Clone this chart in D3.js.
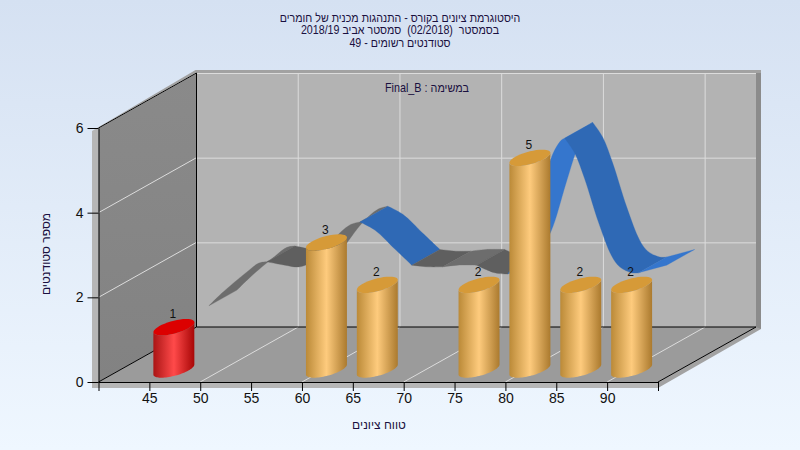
<!DOCTYPE html>
<html><head><meta charset="utf-8">
<script src="https://cdn.jsdelivr.net/npm/d3@7"></script>
<style>html,body{margin:0;padding:0;background:#fff}svg{display:block}text{font-family:"Liberation Sans",Arial,sans-serif;white-space:pre}</style>
</head><body><svg id="c" width="800" height="450"></svg>
<script>
const titleLines = ["היסטוגרמת ציונים בקורס - התנהגות מכנית של חומרים","בסמסטר  (02/2018)  סמסטר אביב 2018/19","סטודנטים רשומים - 49"];
const taskLabel = "במשימה : Final_B";
const xTitle = "טווח ציונים";
const yTitle = "מספר סטודנטים";
const xTicks = [40,45,50,55,60,65,70,75,80,85,90,95];
const xLabels = [45,50,55,60,65,70,75,80,85,90];
const yTicks = [0,2,4,6];
const gridX = [50,60,70,80,90];
const gridY = [2,4,6];
const binStart = [45,60,65,75,80,85,90];
const binCount = [1,3,2,2,5,2,2];
const binKind = ["low","ok","ok","ok","ok","ok","ok"];
const curveScore = [47.97,49.24,51.70,52.88,53.67,55.43,56.91,58.77,60.25,61.82,62.80,64.27,66.24,67.91,69.48,70.95,72.43,74.29,76.06,77.34,78.81,80.28,81.27,81.95,82.64,82.94,83.92,84.90,86.28,87.55,88.34,89.52,90.21,92.96];
const curveValue = [1.41,1.71,2.21,2.42,2.45,2.37,2.33,2.52,2.99,3.32,3.39,3.20,2.75,2.37,2.33,2.33,2.37,2.37,2.19,2.16,2.78,3.91,4.67,5.09,5.33,5.37,5.02,4.41,3.37,2.59,2.33,2.19,2.19,2.37];
const curveTone = ["g1","g1","g1","g1","g2","g2","g2","g1","g1","g1","b","b","b","g2","g2","g1","g1","g2","g2","l","l","l","l","l","l","b","b","b","b","b","b","b","l"];

const W=800,H=450,DX=98,DY=55;
const svg=d3.select("#c");
const x=d3.scaleLinear().domain([40,95]).range([98.5,658]);
const y=d3.scaleLinear().domain([0,6]).range([382,128]);
const px=(s,d=0)=>x(s)+d*DX, py=(v,d=0)=>y(v)-d*DY;
const line=d3.line();
const P=(pts)=>line(pts)+"Z";
const defs=svg.append("defs");
function grad(id,stops,x2=1,y2=0){const g=defs.append("linearGradient").attr("id",id).attr("x1",0).attr("y1",0).attr("x2",x2).attr("y2",y2);
 stops.forEach(([o,c])=>g.append("stop").attr("offset",o).attr("stop-color",c));}
grad("bg",[[0,"#d5e1f2"],[1,"#eff7ff"]],0,1);
grad("gold",[[0,"#bb8a38"],[.5,"#fecb7d"],[1,"#ab7a2e"]]);
grad("red",[[0,"#aa1515"],[.5,"#ff4a4a"],[1,"#a80606"]]);
grad("lw",[[0,"#8a8a8a"],[1,"#828282"]],0,1);
svg.append("rect").attr("width",W).attr("height",H).attr("fill","url(#bg)");

const x0=40,x1=95,y0=0,y1=6;
svg.append("path").attr("fill","#b6b6b6").attr("d",P([[92,131],[px(x0),py(y1)],[px(x0),py(y0)+0],[px(x1),py(y0)],[px(x1),388],[92,388]]));
svg.append("path").attr("fill","#a2a2a2").attr("d",P([[92,131],[px(x0,1)-1,py(y1,1)-3],[px(x1,1)+5,py(y1,1)-3],[px(x1,1)+5,py(y0,1)+2],[px(x1),388],[px(x1),py(y0)],[px(x1,1),py(y0,1)],[px(x1,1),py(y1,1)],[px(x0,1),py(y1,1)],[px(x0),py(y1)]]));
svg.append("path").attr("fill","#8b8b8b").attr("d",P([[px(x1,1),py(y1,1)],[px(x1,1)+5,py(y1,1)],[px(x1,1)+5,py(y0,1)+2],[px(x1,1),py(y0,1)]]));
svg.append("path").attr("fill","#b3b3b3").attr("d",P([[px(x0,1),py(y1,1)],[px(x1,1),py(y1,1)],[px(x1,1),py(y0,1)],[px(x0,1),py(y0,1)]]));
svg.append("path").attr("fill","url(#lw)").attr("d",P([[px(x0),py(y1)],[px(x0,1),py(y1,1)],[px(x0,1),py(y0,1)],[px(x0),py(y0)]]));
svg.append("path").attr("fill","#9b9b9b").attr("d",P([[px(x0),py(y0)],[px(x0,1),py(y0,1)],[px(x1,1),py(y0,1)],[px(x1),py(y0)]]));
const grid=svg.append("g").attr("stroke","#dcdcdc").attr("fill","none").attr("stroke-width",1);
gridX.forEach(s=>{grid.append("path").attr("d",line([[px(s,1),py(y1,1)],[px(s,1),py(y0,1)]]));
 grid.append("path").attr("d",line([[px(s),py(y0)],[px(s,1),py(y0,1)]]));});
gridY.forEach(v=>{grid.append("path").attr("d",line([[px(x0,1),py(v,1)+.5],[px(x1,1),py(v,1)+.5]]));
 grid.append("path").attr("d",line([[px(x0),py(v)],[px(x0,1),py(v,1)]]));});
const fr=svg.append("g").attr("stroke","#000").attr("fill","none").attr("stroke-width",1);
[[[px(x0),py(y1)],[px(x0,1),py(y1,1)]],[[px(x0,1),py(y1,1)],[px(x0,1),py(y0,1)]],[[px(x0,1),py(y0,1)],[px(x1,1),py(y0,1)]],[[px(x0),py(y0)],[px(x0,1),py(y0,1)]],[[px(x1),py(y0)],[px(x1,1),py(y0,1)]]].forEach(s=>fr.append("path").attr("d",line(s)));

// ribbon: runs of equal tone, each edge drawn as a smooth curve
const D1=0.3,D2=0.586;
const tone={g1:"#6d6d6d",g2:"#5f5f5f",b:"#2f69b5",l:"#3576cd"};
const rib=svg.append("g");
const smooth=d3.line().curve(d3.curveCatmullRom.alpha(.5));
let start=0;
curveTone.forEach((t,i)=>{
 if(i<curveTone.length-1&&curveTone[i+1]===t)return;
 const idx=d3.range(start,i+2);
 const f=idx.map(k=>[px(curveScore[k],D1),py(curveValue[k],D1)]);
 const b=idx.map(k=>[px(curveScore[k],D2),py(curveValue[k],D2)]).reverse();
 rib.append("path").attr("d",smooth(f)+"L"+smooth(b).slice(1)+"Z").attr("fill",tone[t]).attr("stroke",tone[t]).attr("stroke-width",.3);
 start=i+1;
});

const ax=svg.append("g").attr("transform",`translate(0,${y(0)})`).call(d3.axisBottom(x).tickValues(xTicks).tickSize(9).tickSizeOuter(0).tickFormat(d=>xLabels.includes(d)?d:""));
const ay=svg.append("g").attr("transform",`translate(${x(40)},0)`).call(d3.axisLeft(y).tickValues(yTicks).tickSize(11).tickSizeOuter(0).tickFormat(d3.format("d")));
[ax,ay].forEach(g=>{g.selectAll("path,line").attr("stroke","#000").attr("stroke-width",1);g.selectAll("text").attr("fill","#111").attr("font-size",14).attr("font-family",'"Liberation Sans",Arial,sans-serif');});
ax.selectAll("text").attr("dy",".72em").attr("y",11);
ay.selectAll("text").attr("x",-15);

const BO=24.5,BY=12.5,RX=20.5,TILT=5,RY=6.5;
function ell(cx,cy,a,b){return d3.range(a,b+.001,(b-a)/40).map(t=>[cx+RX*Math.cos(t),cy-TILT*Math.cos(t)+RY*Math.sin(t)]);}
const bars=svg.append("g");
binStart.forEach((s,i)=>{
 const v=binCount[i],cx=x(s)+BO,ct=y(v)-BY,cb=y(0)-BY,k=binKind[i]=="low";
 const side=[...ell(cx,cb,0,Math.PI),...ell(cx,ct,Math.PI,0)];
 bars.append("path").attr("d",P(side)).attr("fill",`url(#${k?"red":"gold"})`);
 bars.append("path").attr("d",P(ell(cx,ct,0,2*Math.PI))).attr("fill",k?"#dc0000":"#d69a38");
 bars.append("text").attr("x",cx-1).attr("y",ct-9).attr("text-anchor","middle").attr("font-size",12).attr("fill","#111").text(v);
});

const ink="#1a1040";
const tt=svg.append("g").attr("text-anchor","middle").attr("fill",ink).attr("font-size",12).attr("direction","rtl");
titleLines.forEach((t,i)=>tt.append("text").attr("transform",`translate(400,${[22,34,47][i]}) scale(.89,1)`).text(t));
svg.append("text").attr("transform","translate(427,92) scale(.9,1)").attr("text-anchor","middle").attr("direction","rtl").attr("font-size",12).attr("fill",ink).text(taskLabel);
svg.append("text").attr("x",379).attr("y",429).attr("text-anchor","middle").attr("direction","rtl").attr("font-size",12).attr("fill",ink).text(xTitle);
svg.append("text").attr("transform","translate(50,254) rotate(-90)").attr("text-anchor","middle").attr("direction","rtl").attr("font-size",12).attr("fill",ink).text(yTitle);
</script></body></html>
